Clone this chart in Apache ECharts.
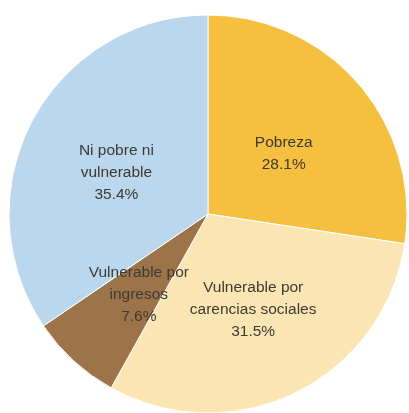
<!DOCTYPE html>
<html>
<head>
<meta charset="utf-8">
<script src="https://cdn.jsdelivr.net/npm/echarts@6/dist/echarts.min.js"></script>
<style>
  html, body { margin: 0; padding: 0; background: #fff; }
  #chart { width: 409px; height: 413px; }
</style>
</head>
<body>
<div id="chart"></div>
<script>
// categories and values (percent as printed on the chart)
var categories = ["Pobreza", "Vulnerable por\ncarencias sociales", "Vulnerable por\ningresos", "Ni pobre ni\nvulnerable"];
var values = [28.1, 31.5, 7.6, 35.4];
var colors = ["#F5BF40", "#FBE6B3", "#9D744A", "#BAD7ED"];

var myChart = echarts.init(document.getElementById("chart"));

// small nudges so the labels sit where the original put them
var labelShift = { 0: [-2, 7], 1: [0, 4], 2: [0, 5], 3: [-1, 7] };

var option = {
  backgroundColor: "#fff",
  animation: false,
  series: [
    {
      type: "pie",
      center: [208, 214],
      radius: [0, 199],
      startAngle: 90,
      clockwise: true,
      itemStyle: { borderColor: "#fff", borderWidth: 1 },
      label: {
        position: "inside",
        color: "#3d3a34",
        fontFamily: "Liberation Sans, Arial, sans-serif",
        fontSize: 15.5,
        lineHeight: 22,
        align: "center",
        formatter: function (p) {
          return p.name + "\n" + p.value.toFixed(1) + "%";
        }
      },
      labelLine: { show: false },
      data: categories.map(function (c, i) {
        return {
          name: c,
          value: values[i],
          itemStyle: { color: colors[i] },
          label: { offset: labelShift[i] }
        };
      })
    }
  ]
};

myChart.setOption(option);
</script>
</body>
</html>
